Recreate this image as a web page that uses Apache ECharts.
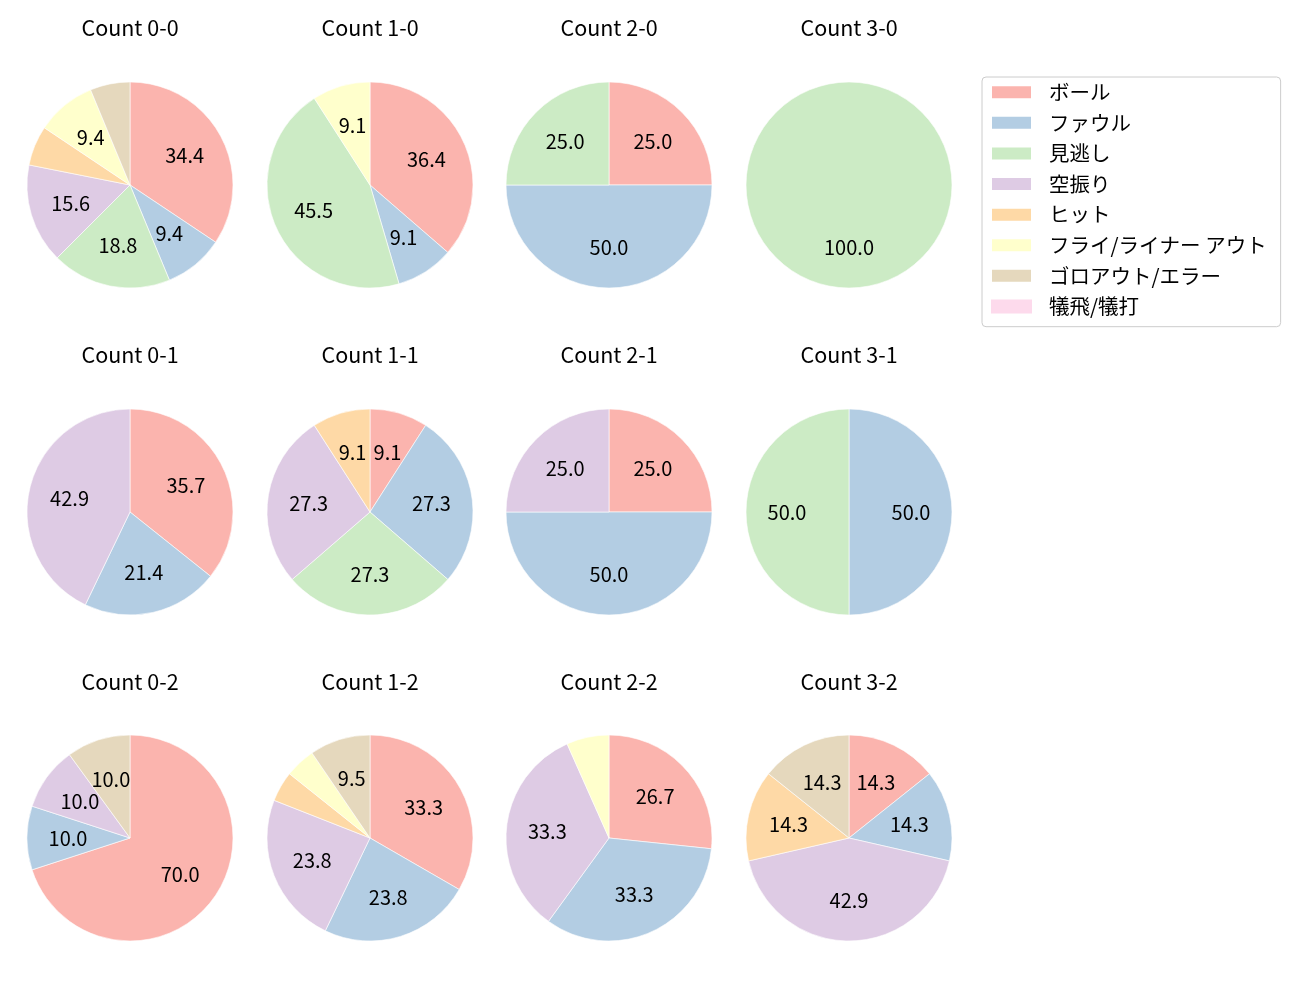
<!DOCTYPE html>
<html>
<head>
<meta charset="utf-8">
<script src="https://cdn.jsdelivr.net/npm/echarts@6/dist/echarts.min.js"></script>
<style>
html,body{margin:0;padding:0;background:#fff;}
#chart{width:1300px;height:1000px;}
</style>
</head>
<body>
<div id="chart"></div>
<script>
const categories = ['ボール','ファウル','見逃し','空振り','ヒット','フライ/ライナー アウト','ゴロアウト/エラー','犠飛/犠打'];
const colors = ['#fbb4ae','#b3cde3','#ccebc5','#decbe4','#fed9a6','#ffffcc','#e5d8bd','#fddaec'];
const pieTitles = ['Count 0-0','Count 1-0','Count 2-0','Count 3-0',
                   'Count 0-1','Count 1-1','Count 2-1','Count 3-1',
                   'Count 0-2','Count 1-2','Count 2-2','Count 3-2'];
const count00 = [11,3,6,5,2,3,2,0];
const count10 = [4,1,5,0,0,1,0,0];
const count20 = [1,2,1,0,0,0,0,0];
const count30 = [0,0,1,0,0,0,0,0];
const count01 = [5,3,0,6,0,0,0,0];
const count11 = [1,3,3,3,1,0,0,0];
const count21 = [1,2,0,1,0,0,0,0];
const count31 = [0,1,1,0,0,0,0,0];
const count02 = [7,1,0,1,0,0,1,0];
const count12 = [7,5,0,5,1,1,2,0];
const count22 = [4,5,0,5,0,1,0,0];
const count32 = [1,1,0,3,1,0,1,0];
const pieValues = [count00,count10,count20,count30,count01,count11,count21,count31,count02,count12,count22,count32];

const FONT = '"Noto Sans CJK JP", "Noto Sans", sans-serif';
const colX = [130, 370, 609, 849];
const rowY = [185, 512, 838];
const titleY = [28, 355, 682];
const R = 103;
const R0_LABEL = 15;

const series = [];
const graphics = [];
pieValues.forEach((vals, i) => {
  const cx = colX[i % 4], cy = rowY[Math.floor(i / 4)];
  const total = vals.reduce((a, b) => a + b, 0);
  const mkData = (withLabel) => vals.map((v, k) => ({
    name: categories[k],
    value: v,
    itemStyle: { color: withLabel ? 'rgba(0,0,0,0)' : colors[k], borderColor: '#fff', borderWidth: (v > 0 && !withLabel) ? 0.6 : 0 },
    label: { show: withLabel && v / total * 100 >= 8 }
  })).filter((d, k) => d.value > 0 || (i === 0 && k === 7));
  series.push({
    type: 'pie', center: [cx, cy], radius: [0, R], startAngle: 90, clockwise: true,
    silent: true, label: { show: false }, labelLine: { show: false },
    emphasis: { disabled: true }, data: mkData(false)
  });
  series.push({
    type: 'pie', center: [cx, cy], radius: [R0_LABEL, R], startAngle: 90, clockwise: true,
    silent: true, legendHoverLink: false,
    label: {
      show: true, position: 'inside', color: '#000', fontSize: 20, fontFamily: FONT,
      formatter: p => (p.value / total * 100).toFixed(1)
    },
    labelLine: { show: false }, emphasis: { disabled: true }, data: mkData(true)
  });
  graphics.push({
    type: 'text', x: cx, y: titleY[Math.floor(i / 4)],
    style: { text: pieTitles[i], fill: '#000', font: '21.5px ' + FONT, align: 'center', verticalAlign: 'middle' }
  });
});

const chart = echarts.init(document.getElementById('chart'));
chart.setOption({
  animation: false,
  backgroundColor: '#fff',
  legend: {
    orient: 'vertical', left: 982, top: 77,
    data: categories,
    icon: 'rect', itemWidth: 41, itemHeight: 14, itemGap: 10.1,
    padding: [5, 14, 10, 8],
    borderColor: '#cccccc', borderWidth: 1, borderRadius: 4,
    backgroundColor: '#fff',
    selectedMode: false,
    textStyle: { fontSize: 20.5, fontFamily: FONT, color: '#000', lineHeight: 20, padding: [0, 0, 0, 12] }
  },
  graphic: graphics,
  series: series
});
</script>
</body>
</html>
